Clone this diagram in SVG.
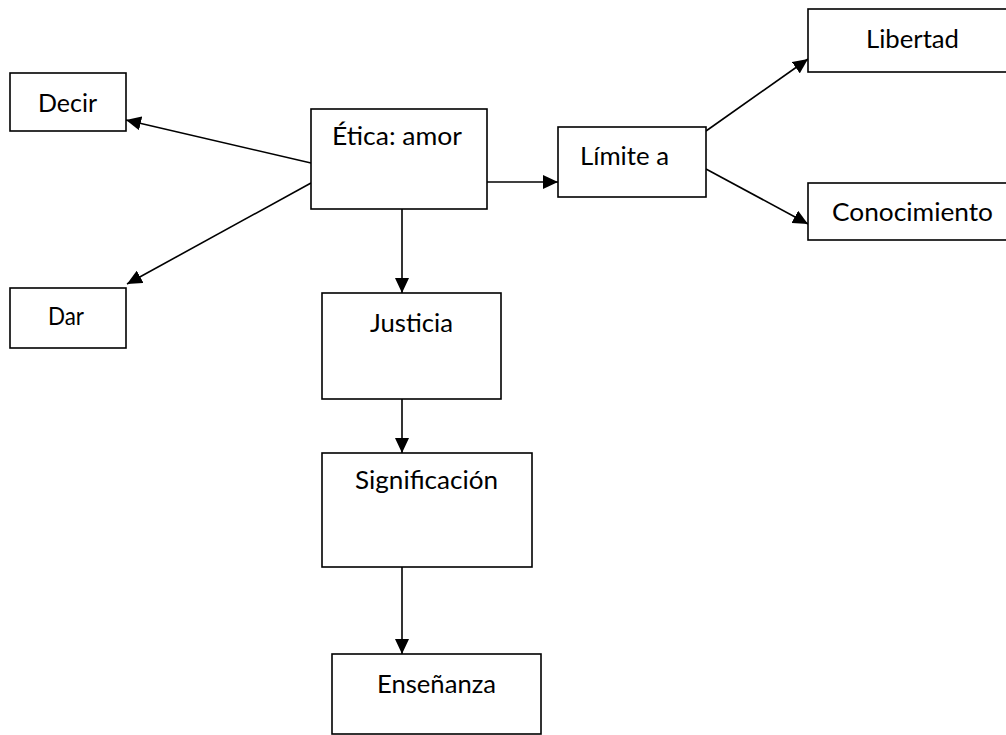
<svg xmlns="http://www.w3.org/2000/svg" width="1006" height="735" viewBox="0 0 1006 735">
  <style>
    .box { fill: #ffffff; stroke: #000000; stroke-width: 1.6; }
    .lbl { font-family: Lato, "Open Sans", "Liberation Sans", sans-serif; font-size: 25px; fill: #000000; }
    .edge { stroke: #000000; stroke-width: 1.6; fill: none; marker-end: url(#arrow); }
  </style>
  <defs>
    <marker id="arrow" markerUnits="userSpaceOnUse" markerWidth="16" markerHeight="14" refX="15" refY="7" orient="auto">
      <path d="M0,0 L15,7 L0,14 Z" fill="#000000"/>
    </marker>
  </defs>
  <rect width="1006" height="735" fill="#ffffff"/>

  <!-- connectors -->
  <g id="connectors">
    <line class="edge" x1="311" y1="163" x2="126" y2="120"/>
    <line class="edge" x1="311" y1="183" x2="127" y2="284"/>
    <line class="edge" x1="487" y1="182" x2="558" y2="182"/>
    <line class="edge" x1="706" y1="131" x2="808" y2="59"/>
    <line class="edge" x1="706" y1="169" x2="808" y2="224"/>
    <line class="edge" x1="402" y1="209" x2="402" y2="293"/>
    <line class="edge" x1="402" y1="399" x2="402" y2="453"/>
    <line class="edge" x1="402" y1="567" x2="402" y2="654"/>
  </g>

  <g id="decir">
    <rect class="box" x="10" y="73" width="116" height="58"/>
    <text class="lbl" x="38" y="112" textLength="59" lengthAdjust="spacingAndGlyphs">Decir</text>
  </g>
  <g id="dar">
    <rect class="box" x="10" y="288" width="116" height="60"/>
    <text class="lbl" x="48" y="325" textLength="36" lengthAdjust="spacingAndGlyphs">Dar</text>
  </g>
  <g id="etica">
    <rect class="box" x="311" y="109" width="176" height="100"/>
    <text class="lbl" x="332" y="145" textLength="130" lengthAdjust="spacingAndGlyphs">Ética: amor</text>
  </g>
  <g id="limite">
    <rect class="box" x="558" y="127" width="148" height="70"/>
    <text class="lbl" x="580" y="165" textLength="89" lengthAdjust="spacingAndGlyphs">Límite a</text>
  </g>
  <g id="libertad">
    <rect class="box" x="808" y="9" width="210" height="63"/>
    <text class="lbl" x="866" y="48" textLength="93" lengthAdjust="spacingAndGlyphs">Libertad</text>
  </g>
  <g id="conocimiento">
    <rect class="box" x="808" y="183" width="210" height="57"/>
    <text class="lbl" x="832" y="221" textLength="161" lengthAdjust="spacingAndGlyphs">Conocimiento</text>
  </g>
  <g id="justicia">
    <rect class="box" x="322" y="293" width="179" height="106"/>
    <text class="lbl" x="370" y="332" textLength="83" lengthAdjust="spacingAndGlyphs">Justicia</text>
  </g>
  <g id="significacion">
    <rect class="box" x="322" y="453" width="210" height="114"/>
    <text class="lbl" x="355" y="489" textLength="143" lengthAdjust="spacingAndGlyphs">Significación</text>
  </g>
  <g id="ensenanza">
    <rect class="box" x="332" y="654" width="209" height="80"/>
    <text class="lbl" x="377" y="693" textLength="119" lengthAdjust="spacingAndGlyphs">Enseñanza</text>
  </g>
</svg>
